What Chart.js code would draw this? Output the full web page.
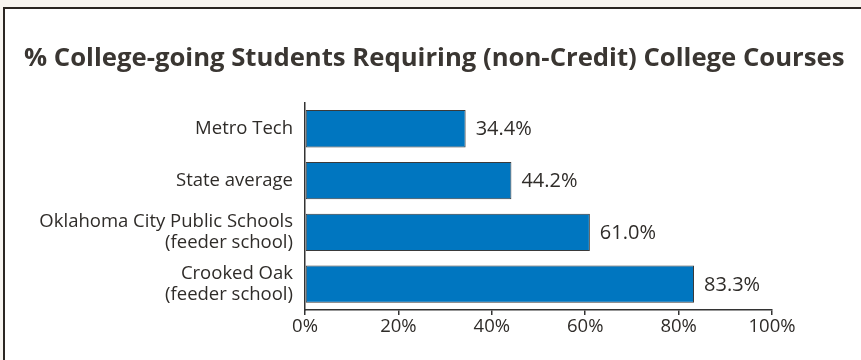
<!DOCTYPE html>
<html>
<head>
<meta charset="utf-8">
<script src="https://cdn.jsdelivr.net/npm/chart.js@4"></script>
<style>
  html, body { margin: 0; padding: 0; background: #f8f5f0; }
  #frame { position: absolute; left: 3px; top: 7px; right: 0; bottom: 0; background: #fff;
           border-left: 2px solid #2b2622; border-top: 2px solid #2b2622; }
  #wrap { position: absolute; left: 0; top: 0; width: 861px; height: 360px; }
</style>
</head>
<body>
<div id="frame"></div>
<div id="wrap"><canvas id="chart" width="861" height="360"></canvas></div>
<script>
const categories = [
  "Metro Tech",
  "State average",
  ["Oklahoma City Public Schools", "(feeder school)"],
  ["Crooked Oak", "(feeder school)"]
];
const values = [34.4, 44.2, 61.0, 83.3];
const tickValues = [0, 20, 40, 60, 80, 100];

const textColor = "#2f2c29";
const font = "'Open Sans', sans-serif";

// value labels at the end of each bar
const barLabels = {
  id: "barLabels",
  afterDatasetsDraw(chart) {
    const c = chart.ctx;
    const meta = chart.getDatasetMeta(0);
    c.save();
    c.font = "20px " + font;
    c.fillStyle = textColor;
    c.textAlign = "left";
    c.textBaseline = "middle";
    meta.data.forEach((bar, i) => {
      c.fillText(values[i].toFixed(1) + "%", bar.x + 10, bar.y + 1);
    });
    c.restore();
  }
};

new Chart(document.getElementById("chart"), {
  type: "bar",
  data: {
    labels: categories,
    datasets: [{
      data: values,
      backgroundColor: "#0076c0",
      borderColor: "#3a3a3a",
      borderWidth: 1,
      borderSkipped: false,
      categoryPercentage: 1,
      barPercentage: 0.72
    }]
  },
  options: {
    indexAxis: "y",
    responsive: false,
    animation: false,
    layout: { padding: { left: 24, right: 0, bottom: 0 } },
    plugins: {
      legend: { display: false },
      tooltip: { enabled: false },
      title: {
        display: true,
        align: "start",
        text: "% College-going Students Requiring (non-Credit) College Courses",
        color: "#3a3632",
        font: { family: font, size: 25.7, weight: "bold", lineHeight: 1.2 },
        padding: { top: 43, bottom: 29 }
      }
    },
    scales: {
      x: {
        min: 0,
        max: 100,
        afterBuildTicks(scale) {
          scale.ticks = tickValues.map(v => ({ value: v }));
        },
        afterFit(scale) { scale.height = 50; },
        grid: { drawOnChartArea: false, drawTicks: true, tickLength: 5, color: "#333", lineWidth: 1.5 },
        border: { display: true, color: "#333", width: 1.5 },
        ticks: {
          color: textColor,
          font: { family: font, size: 18.5 },
          padding: 1,
          maxRotation: 0,
          callback: v => v + "%"
        }
      },
      y: {
        afterFit(scale) { scale.width = 281; },
        grid: { display: false, drawTicks: false },
        border: { display: true, color: "#333", width: 1.5 },
        ticks: {
          color: textColor,
          font: { family: font, size: 18.5, lineHeight: 1.12 },
          padding: 12
        }
      },
      // empty right-hand spacer so the plot ends at 100% like the original
      yRight: {
        type: "category",
        position: "right",
        afterFit(scale) { scale.width = 89; },
        grid: { display: false, drawTicks: false },
        border: { display: false },
        ticks: { display: false }
      }
    }
  },
  plugins: [barLabels]
});
</script>
</body>
</html>
